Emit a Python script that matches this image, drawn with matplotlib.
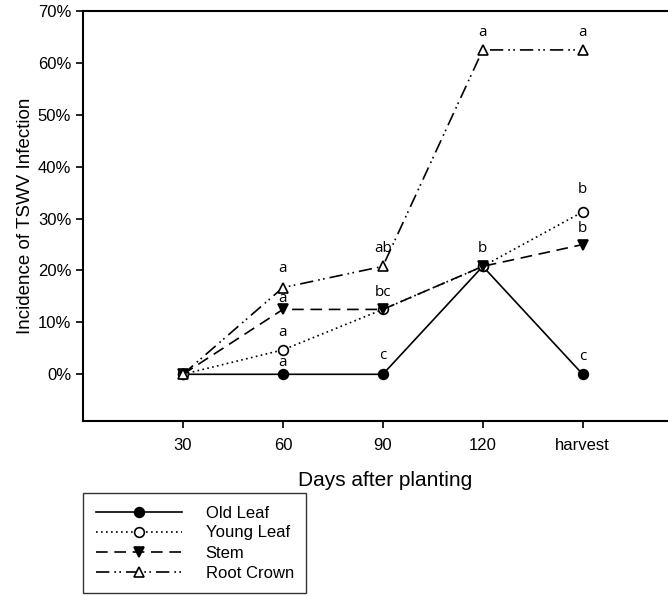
import numpy as np
import matplotlib
matplotlib.use("Agg")
import matplotlib.pyplot as plt

plt.rcParams["font.family"] = ["Liberation Sans", "DejaVu Sans"]

# data (% incidence)
days = ["30", "60", "90", "120", "harvest"]
old_leaf = [0, 0, 0, 20.8, 0]
young_leaf = [0, 4.7, 12.5, 20.8, 31.3]
stem = [0, 12.5, 12.5, 20.8, 25.0]
root_crown = [0, 16.7, 20.8, 62.5, 62.5]

# significance letters (None = no letter)
old_letters = [None, "a", "c", "b", "c"]
young_letters = [None, "a", "bc", None, "b"]
stem_letters = [None, "a", None, None, "b"]
root_letters = [None, "a", "ab", "a", "a"]

# letter offsets above the marker, pixels
old_off = [0, 12, 19, 18, 18]
young_off = [0, 17, 17, 0, 22]
stem_off = [0, 11, 0, 0, 16]
root_off = [0, 19, 18, 17, 17]

x = np.arange(len(days))

fig = plt.figure(figsize=(6.68, 5.96), dpi=100)
ax = fig.add_axes([83/668, 1-421/596, 1.0-83/668+0.01, (421-11)/596])

series = [
    ("Old Leaf", old_leaf, old_letters, old_off, dict(ls="-", marker="o", mfc="black")),
    ("Young Leaf", young_leaf, young_letters, young_off, dict(ls=(0, (1, 2)), marker="o", mfc="white")),
    ("Stem", stem, stem_letters, stem_off, dict(ls=(0, (7, 4)), marker="v", mfc="black")),
    ("Root Crown", root_crown, root_letters, root_off,
     dict(ls=(0, (8, 3, 1, 2, 1, 3)), marker="^", mfc="white")),
]

handles = []
for name, vals, letters, offs, st in series:
    h, = ax.plot(x, vals, color="black", lw=1.2, ms=7, mec="black", mew=1.2, label=name, **st)
    handles.append(h)
    for xi, yi, lab, off in zip(x, vals, letters, offs):
        if lab:
            ax.annotate(lab, (xi, yi), xytext=(0, off), textcoords="offset pixels",
                        ha="center", va="center", fontsize=11,
                        family=["Open Sans", "DejaVu Sans"], color="black")

ax.set_xlim(-1, 4.92)
ax.set_ylim(-9, 70)
ax.set_xticks(x)
ax.set_xticklabels(days, fontsize=12)
ax.set_yticks(np.arange(0, 71, 10))
ax.set_yticklabels([f"{v}%" for v in range(0, 71, 10)], fontsize=12)
ax.tick_params(direction="out", length=5, width=1.2, color="black")
ax.tick_params(axis="x", pad=7)
for s in ["left", "bottom", "top"]:
    ax.spines[s].set_linewidth(1.5)
ax.spines["right"].set_visible(False)

ax.set_ylabel("Incidence of TSWV Infection", fontsize=13.5, labelpad=3)
fig.text(385/668, 1-480/596, "Days after planting", ha="center", va="center", fontsize=15)

leg = fig.legend(handles=handles, loc="upper left", bbox_to_anchor=(83/668, 1-493/596),
                 frameon=True, fancybox=False, fontsize=12, handlelength=5.2,
                 handletextpad=1.4, borderpad=0.75, labelspacing=0.3, borderaxespad=0)
leg.get_frame().set_edgecolor("black")
leg.get_frame().set_linewidth(1.0)

fig.savefig("out.png", dpi=100)
